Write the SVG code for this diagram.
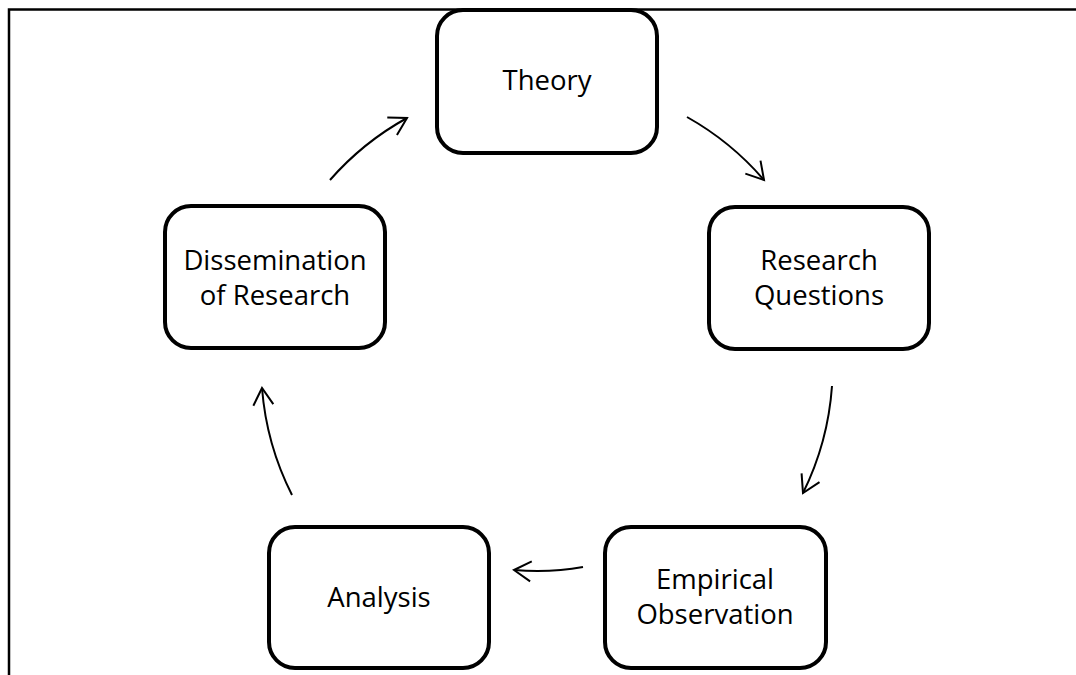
<svg xmlns="http://www.w3.org/2000/svg" width="1076" height="675" viewBox="0 0 1076 675">
<defs>
<style>
.box{fill:#fff;stroke:#000;stroke-width:4}
.lbl{font-family:"Open Sans","Liberation Sans",sans-serif;font-size:27.5px;fill:#000;text-anchor:middle}
.conn{fill:none;stroke:#000;stroke-width:2;marker-end:url(#head)}
</style>
<marker id="head" markerUnits="userSpaceOnUse" viewBox="-20 -12 22 24" markerWidth="22" markerHeight="24" refX="0" refY="0" orient="auto" overflow="visible">
<path d="M -17 -10 L 0 0 L -17 10" fill="none" stroke="#000" stroke-width="2"/>
</marker>
</defs>
<rect width="1076" height="675" fill="#fff"/>
<path d="M 9 675 L 9 9.5 L 1076 9.5" fill="none" stroke="#000" stroke-width="2.5"/>
<g id="connectors">
<path class="conn" d="M 330 180 A 286 286 0 0 1 407 118"/>
<path class="conn" d="M 687 117 A 286 286 0 0 1 764 180"/>
<path class="conn" d="M 832 386 A 286 286 0 0 1 803 493"/>
<path class="conn" d="M 583 567 Q 550 573 514 570"/>
<path class="conn" d="M 292 495 A 286 286 0 0 1 262 388"/>
</g>
<g id="theory">
<rect class="box" x="437" y="10" width="220" height="143" rx="26"/>
<text class="lbl" x="547" y="90">Theory</text>
</g>
<g id="research-questions">
<rect class="box" x="709" y="207" width="220" height="142" rx="26"/>
<text class="lbl" x="819" y="270">Research</text>
<text class="lbl" x="819" y="305">Questions</text>
</g>
<g id="empirical-observation">
<rect class="box" x="605" y="527" width="221" height="141" rx="26"/>
<text class="lbl" x="715" y="589">Empirical</text>
<text class="lbl" x="715" y="624">Observation</text>
</g>
<g id="analysis">
<rect class="box" x="269" y="527" width="220" height="141" rx="26"/>
<text class="lbl" x="379" y="607">Analysis</text>
</g>
<g id="dissemination">
<rect class="box" x="165" y="206" width="220" height="142" rx="26"/>
<text class="lbl" x="275" y="270">Dissemination</text>
<text class="lbl" x="275" y="305">of Research</text>
</g>
</svg>
